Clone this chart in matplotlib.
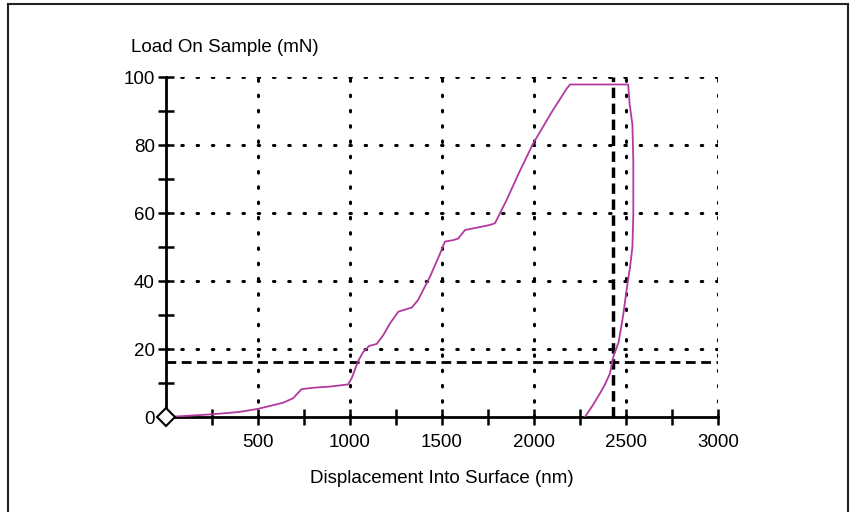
import numpy as np
import matplotlib.pyplot as plt
from matplotlib.lines import Line2D

plt.rcParams['font.family'] = ['Liberation Sans', 'DejaVu Sans']

# loading branch (nm, mN)
load_x = [0, 100, 250, 400, 500, 636, 690, 737, 800, 900, 990, 1010, 1043, 1070, 1104, 1145,
          1180, 1217, 1263, 1300, 1336, 1370, 1435, 1489, 1516, 1560, 1588, 1625, 1700, 1761,
          1788, 1851, 1920, 1996, 2100, 2178, 2196]
load_y = [0, 0.3, 0.8, 1.5, 2.4, 4.2, 5.5, 8.2, 8.6, 9.0, 9.6, 11.5, 16.3, 19.0, 20.9, 21.5,
          24.0, 27.5, 31.0, 31.6, 32.2, 34.4, 41.3, 48.0, 51.6, 52.0, 52.5, 55.0, 55.8, 56.5,
          57.0, 63.8, 72.0, 80.5, 90.0, 96.6, 97.8]
# hold + unloading branch
unload_x = [2196, 2512, 2520, 2535, 2540, 2540, 2535, 2522, 2505, 2485, 2460, 2431, 2413,
            2385, 2359, 2320, 2277]
unload_y = [97.8, 97.8, 92, 86, 75, 60, 50, 44, 38, 30, 22, 17.7, 12.8, 9.5, 7.0, 3.5, 0.0]

hline_y = 16.2
vline_x = 2430

x_ticks = [500, 1000, 1500, 2000, 2500, 3000]
y_ticks = [0, 20, 40, 60, 80, 100]

fig = plt.figure(figsize=(8.53, 5.12), dpi=100)
ax = fig.add_axes([0.1946, 0.1855, 0.6471, 0.6641])

curve = '#B23A9F'
ax.plot(load_x + unload_x[1:], load_y + unload_y[1:], color=curve, lw=1.3, zorder=4)

# dotted grid incl. top/right border
for xv in x_ticks:
    ax.plot([xv, xv], [0, 100], color='black', lw=2.2, ls=(0, (0.5, 4.5)),
            dash_capstyle='round', zorder=2)
for yv in y_ticks[1:]:
    ax.plot([0, 3000], [yv, yv], color='black', lw=2.2, ls=(0, (0.5, 4.5)),
            dash_capstyle='round', zorder=2)

ax.axhline(hline_y, color='black', lw=2, ls=(0, (3.5, 2)), zorder=3)
ax.axvline(vline_x, color='black', lw=2.5, ls=(0, (3, 1.6)), zorder=3)

ax.plot([0], [0], marker='D', ms=9, mfc='white', mec='black', mew=1.5,
        clip_on=False, zorder=6)

ax.set_xlim(0, 3000)
ax.set_ylim(0, 100)
ax.set_xticks(x_ticks)
ax.set_yticks(y_ticks)
ax.set_xticks(np.arange(250, 3000, 500), minor=True)
ax.set_yticks(np.arange(10, 100, 20), minor=True)
ax.tick_params(which='both', direction='inout', width=1.8, color='black',
               labelsize=13.5, length=12)
ax.tick_params(axis='y', pad=2)
ax.tick_params(axis='x', pad=6)
for s in ('top', 'right'):
    ax.spines[s].set_visible(False)
for s in ('left', 'bottom'):
    ax.spines[s].set_linewidth(2)

ax.set_xlabel('Displacement Into Surface (nm)', fontsize=13.5, labelpad=14)
fig.text(0.154, 0.908, 'Load On Sample (mN)', fontsize=13.5, ha='left', va='center')

# outer frame
for xs, ys in (([0.009, 0.009], [0, 0.992]), ([0.009, 0.994], [0.992, 0.992]),
               ([0.994, 0.994], [0, 0.992])):
    fig.add_artist(Line2D(xs, ys, transform=fig.transFigure, color='#222222', lw=1.5))

fig.savefig('out.png', dpi=100)
